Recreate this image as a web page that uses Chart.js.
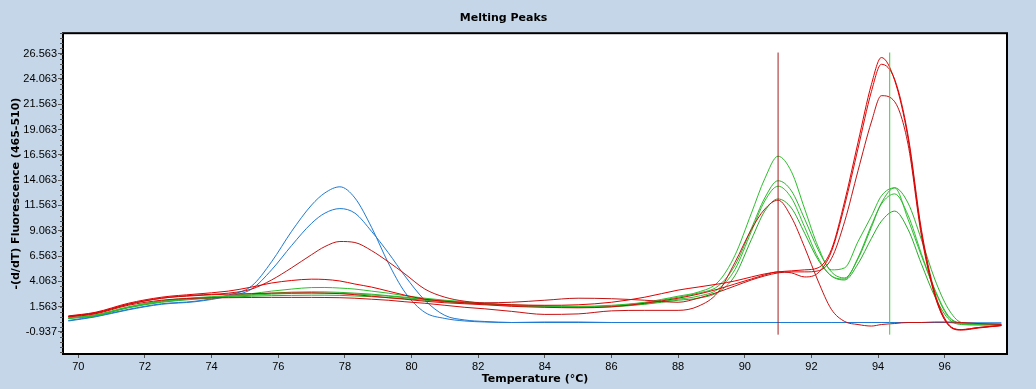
<!DOCTYPE html>
<html>
<head>
<meta charset="utf-8">
<script src="https://cdn.jsdelivr.net/npm/chart.js@4.4.1/dist/chart.umd.min.js"></script>
<style>
  html, body { margin: 0; padding: 0; background: #c4d6e7; }
  #wrap { width: 1036px; height: 389px; }
</style>
</head>
<body>
<div id="wrap"><canvas id="peaks" width="1036" height="389"></canvas></div>
<script>
// temperature grid (°C) shared by all curves
const temps = [69.7, 70.5, 71.5, 72.5, 73.5, 74.5, 75.2, 75.8, 76.4, 77.0, 77.4, 77.85, 78.3, 78.8, 79.3, 79.8, 80.4, 81.0, 81.6, 82.2,
  83, 84, 85, 86, 87, 88, 88.6, 89.2, 89.7, 90.2, 90.6, 91.0, 91.4, 91.8, 92.2, 92.6, 93.0, 93.4, 93.8, 94.1, 94.5, 94.9, 95.3, 95.7,
  96.1, 96.5, 97.0, 97.7];

// -(d/dT) values
const blue1 = [0.2, 0.6, 1.3, 1.85, 2.1, 2.7, 3.6, 6.0, 9.0, 11.6, 12.8, 13.4, 12.3, 9.4, 5.9, 3.0, 1.0, 0.4, 0.15, 0.05,
  0, 0, 0, 0, 0, 0, 0, 0, 0, 0, 0, 0, 0, 0, 0, 0, 0, 0, 0, 0, 0, 0, 0, 0, 0, -0.05, -0.05, -0.05];
const blue2 = [0.15, 0.55, 1.25, 1.8, 2.05, 2.6, 3.3, 5.2, 7.6, 9.8, 10.8, 11.25, 10.8, 9.0, 6.9, 4.6, 2.2, 0.7, 0.25, 0.1,
  0, 0.05, 0.05, 0, 0, 0, 0, 0, 0, 0, 0, 0, 0, 0, 0, 0, 0, 0, 0, 0, 0, 0, 0, 0, 0, -0.05, -0.05, -0.05];

const green1 = [0.45, 0.75, 1.55, 2.15, 2.45, 2.65, 2.85, 3.1, 3.3, 3.45, 3.46, 3.4, 3.3, 3.1, 2.9, 2.65, 2.4, 2.2, 2.05, 1.9,
  1.75, 1.65, 1.6, 1.7, 2.0, 2.6, 3.0, 4.0, 6.6, 10.8, 14.2, 16.42, 14.9, 11.2, 7.5, 5.2, 5.4, 8.0, 10.5, 12.5, 13.3, 10.2,
  6.6, 3.3, 0.7, -0.1, -0.2, -0.25];
const green2 = [0.45, 0.7, 1.5, 2.1, 2.4, 2.6, 2.75, 2.9, 3.0, 3.03, 3.02, 2.98, 2.9, 2.8, 2.65, 2.5, 2.3, 2.15, 2.0, 1.85,
  1.7, 1.6, 1.55, 1.65, 1.95, 2.5, 2.9, 3.6, 5.6, 9.3, 12.3, 14.0, 13.0, 10.2, 7.2, 5.0, 4.4, 6.3, 9.4, 11.8, 13.3, 11.8,
  8.2, 4.3, 1.4, 0.0, -0.15, -0.2];
const green3 = [0.4, 0.7, 1.5, 2.05, 2.35, 2.55, 2.7, 2.8, 2.87, 2.9, 2.9, 2.88, 2.82, 2.72, 2.6, 2.45, 2.28, 2.12, 1.98, 1.85,
  1.7, 1.58, 1.5, 1.6, 1.85, 2.3, 2.6, 3.3, 5.2, 9.0, 12.0, 13.46, 12.3, 9.4, 6.4, 4.6, 4.3, 6.4, 9.6, 11.7, 12.7, 10.6,
  6.8, 3.2, 0.6, -0.1, -0.2, -0.2];
const green4 = [0.4, 0.65, 1.45, 2.0, 2.3, 2.5, 2.6, 2.65, 2.68, 2.7, 2.7, 2.68, 2.62, 2.55, 2.45, 2.35, 2.2, 2.05, 1.92, 1.8,
  1.65, 1.55, 1.5, 1.55, 1.8, 2.2, 2.4, 3.0, 4.6, 8.2, 11.0, 12.2, 11.3, 8.8, 6.2, 4.6, 4.2, 5.8, 8.3, 10.0, 11.0, 9.2,
  5.8, 2.6, 0.4, -0.2, -0.25, -0.25];

const redA = [0.6, 0.95, 1.8, 2.4, 2.7, 2.9, 3.3, 4.2, 5.4, 6.7, 7.5, 8.0, 7.9, 7.1, 6.0, 4.8, 3.3, 2.5, 2.1, 1.95,
  2.0, 2.2, 2.4, 2.35, 2.2, 2.0, 2.4, 3.0, 3.6, 4.2, 4.6, 4.9, 5.0, 5.0, 5.1, 6.3, 10.0, 15.0, 19.8, 22.4, 21.8, 17.6,
  8.6, 2.7, -0.2, -0.7, -0.5, -0.3];
const redB = [0.55, 0.85, 1.7, 2.2, 2.4, 2.45, 2.47, 2.48, 2.48, 2.48, 2.47, 2.45, 2.4, 2.3, 2.2, 2.05, 1.9, 1.7, 1.5, 1.35,
  1.1, 0.8, 0.85, 1.15, 1.2, 1.2, 1.6, 3.0, 5.9, 9.2, 11.2, 12.08, 10.4, 7.4, 4.1, 1.3, 0.1, -0.2, -0.35, -0.2, -0.1, 0.0,
  0.0, 0.05, 0.05, 0.0, -0.1, -0.2];
const redC = [0.65, 1.0, 1.9, 2.5, 2.8, 3.1, 3.5, 3.9, 4.15, 4.28, 4.25, 4.1, 3.8, 3.5, 3.1, 2.7, 2.3, 2.1, 1.95, 1.85,
  1.75, 1.7, 1.75, 2.0, 2.5, 3.2, 3.5, 3.8, 4.1, 4.5, 4.8, 5.0, 5.1, 5.2, 5.4, 7.2, 12.0, 17.8, 23.5, 26.17, 23.9, 18.2,
  8.9, 2.8, -0.2, -0.75, -0.55, -0.3];
const redD = [0.6, 0.9, 1.8, 2.4, 2.65, 2.8, 2.85, 2.9, 2.92, 2.93, 2.9, 2.85, 2.75, 2.6, 2.45, 2.3, 2.1, 1.95, 1.85, 1.75,
  1.6, 1.5, 1.45, 1.55, 1.9, 2.4, 2.8, 3.3, 3.8, 4.3, 4.7, 5.0, 4.9, 4.5, 4.9, 7.0, 11.6, 17.2, 22.8, 25.5, 24.0, 18.5,
  9.2, 3.0, -0.1, -0.7, -0.5, -0.3];

// Tm marker lines
const markerTemps = [91.0, 94.35];
const markerRange = [-1.2, 26.66];

const xTicks = [70, 72, 74, 76, 78, 80, 82, 84, 86, 88, 90, 92, 94, 96];
const yTicks = [-0.937, 1.563, 4.063, 6.563, 9.063, 11.563, 14.063, 16.563, 19.063, 21.563, 24.063, 26.563];

const toPoints = (vals) => temps.map((t, i) => ({ x: t, y: vals[i] }));

function curve(vals, color, order) {
  return {
    data: toPoints(vals),
    borderColor: color,
    borderWidth: 1,
    pointRadius: 0,
    cubicInterpolationMode: "monotone",
    order: order,
  };
}

function marker(t, color) {
  return {
    data: markerRange.map((v) => ({ x: t, y: v })),
    borderColor: color,
    borderWidth: 1,
    pointRadius: 0,
    order: 0,
  };
}

const plotFrame = {
  id: "plotFrame",
  beforeDraw(chart) {
    const { ctx, chartArea: a } = chart;
    ctx.save();
    ctx.fillStyle = "#ffffff";
    ctx.fillRect(a.left, a.top, a.right - a.left, a.bottom - a.top);
    ctx.restore();
  },
  afterDraw(chart) {
    const { ctx, chartArea: a } = chart;
    const y = chart.scales.y;
    ctx.save();
    ctx.strokeStyle = "#000";
    ctx.lineWidth = 2;
    ctx.strokeRect(a.left, a.top, a.right - a.left, a.bottom - a.top);
    // minor ticks on the value axis
    ctx.lineWidth = 1;
    ctx.strokeStyle = "#555";
    for (let v = yTicks[0] - 2.5; v < y.max; v += 0.5) {
      if (v < y.min) continue;
      const p = Math.round(y.getPixelForValue(v)) + 0.5;
      ctx.beginPath();
      ctx.moveTo(a.left - 3, p);
      ctx.lineTo(a.left, p);
      ctx.stroke();
    }
    ctx.restore();
  },
};

new Chart(document.getElementById("peaks").getContext("2d"), {
  type: "line",
  data: {
    datasets: [
      marker(markerTemps[0], "#a51e1e"),
      marker(markerTemps[1], "#3cc83c"),
      curve(redC, "#e00000", 1),
      curve(redD, "#d80808", 1),
      curve(redA, "#c01414", 1),
      curve(redB, "#c80f0f", 1),
      curve(green1, "#2dbe2d", 2),
      curve(green2, "#2db42d", 2),
      curve(green3, "#2dbe2d", 2),
      curve(green4, "#28aa28", 2),
      curve(blue1, "#1e7ad2", 3),
      curve(blue2, "#1e7ad2", 3),
    ],
  },
  plugins: [plotFrame],
  options: {
    responsive: false,
    devicePixelRatio: 1,
    animation: false,
    layout: { padding: { top: 0, right: 29, bottom: 0, left: 0 } },
    plugins: {
      legend: { display: false },
      tooltip: { enabled: false },
      title: {
        display: true,
        text: "Melting Peaks",
        color: "#000",
        font: { family: "DejaVu Sans", size: 11, weight: "bold" },
        padding: { top: 12, bottom: 8 },
      },
    },
    scales: {
      x: {
        type: "linear",
        min: 69.54,
        max: 97.87,
        afterBuildTicks: (s) => { s.ticks = xTicks.map((v) => ({ value: v })); },
        afterFit: (s) => { s.height = 35; },
        grid: { drawOnChartArea: false, tickLength: 4, color: "#555" },
        border: { display: false },
        ticks: {
          color: "#000",
          padding: 2,
          maxRotation: 0,
          font: { family: "Liberation Sans", size: 11 },
        },
        title: {
          display: true,
          text: "Temperature (°C)",
          color: "#000",
          font: { family: "DejaVu Sans", size: 11, weight: "bold" },
          padding: { top: 0, bottom: 3 },
        },
      },
      y: {
        min: -3.11,
        max: 28.57,
        afterBuildTicks: (s) => { s.ticks = yTicks.map((v) => ({ value: v })); },
        afterFit: (s) => { s.width = 63; },
        grid: { drawOnChartArea: false, tickLength: 5, color: "#555" },
        border: { display: false },
        ticks: {
          color: "#000",
          padding: 1,
          font: { family: "Liberation Sans", size: 11 },
          callback: (v) => v.toFixed(3),
        },
        title: {
          display: true,
          text: "-(d/dT) Fluorescence (465-510)",
          color: "#000",
          font: { family: "DejaVu Sans", size: 11, weight: "bold" },
          padding: { top: 10, bottom: 0 },
        },
      },
    },
  },
});
</script>
</body>
</html>
